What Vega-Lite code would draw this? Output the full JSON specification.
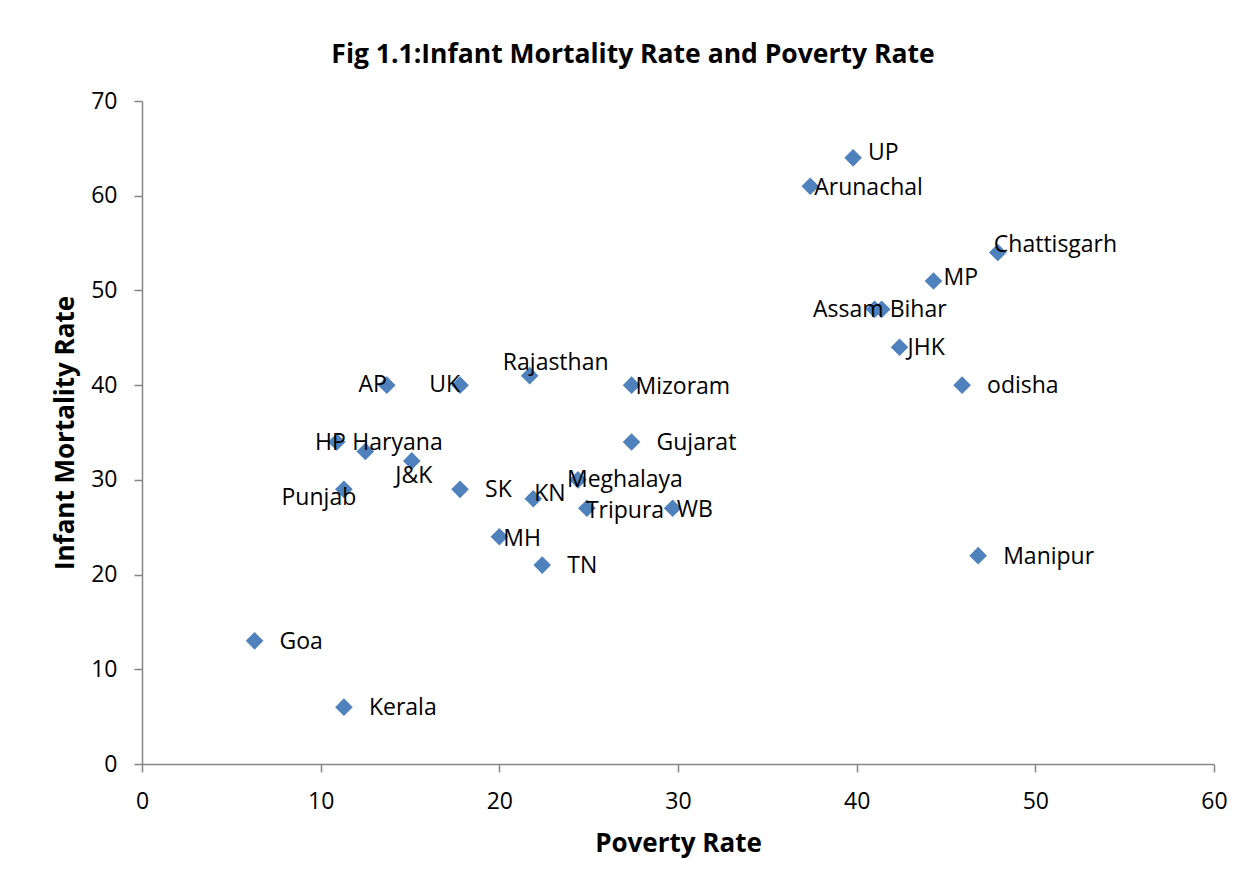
{
  "$schema": "https://vega.github.io/schema/vega-lite/v6.json",
  "width": 1072,
  "height": 663,
  "autosize": {"type": "none"},
  "padding": {"left": 142, "top": 101, "right": 40, "bottom": 124},
  "background": "white",
  "config": {"view": {"stroke": null}, "font": "Open Sans"},
  "title": {
    "text": "Fig 1.1:Infant Mortality Rate and Poverty Rate",
    "font": "Open Sans", "fontSize": 26.5, "fontWeight": "bold", "color": "#000000",
    "anchor": "middle", "frame": "group", "dx": -45, "dy": 36, "baseline": "alphabetic", "offset": 37
  },
  "data": {
    "values": [
      {"state": "UP", "poverty": 39.8, "imr": 64},
      {"state": "Arunachal", "poverty": 37.4, "imr": 61},
      {"state": "Chattisgarh", "poverty": 47.9, "imr": 54},
      {"state": "MP", "poverty": 44.3, "imr": 51},
      {"state": "Assam", "poverty": 41.0, "imr": 48},
      {"state": "Bihar", "poverty": 41.4, "imr": 48},
      {"state": "JHK", "poverty": 42.4, "imr": 44},
      {"state": "odisha", "poverty": 45.9, "imr": 40},
      {"state": "Manipur", "poverty": 46.8, "imr": 22},
      {"state": "Mizoram", "poverty": 27.4, "imr": 40},
      {"state": "Gujarat", "poverty": 27.4, "imr": 34},
      {"state": "Rajasthan", "poverty": 21.7, "imr": 41},
      {"state": "UK", "poverty": 17.8, "imr": 40},
      {"state": "AP", "poverty": 13.7, "imr": 40},
      {"state": "HP", "poverty": 10.9, "imr": 34},
      {"state": "Haryana", "poverty": 12.5, "imr": 33},
      {"state": "J&K", "poverty": 15.1, "imr": 32},
      {"state": "Punjab", "poverty": 11.3, "imr": 29},
      {"state": "SK", "poverty": 17.8, "imr": 29},
      {"state": "KN", "poverty": 21.9, "imr": 28},
      {"state": "Meghalaya", "poverty": 24.4, "imr": 30},
      {"state": "Tripura", "poverty": 24.9, "imr": 27},
      {"state": "WB", "poverty": 29.7, "imr": 27},
      {"state": "MH", "poverty": 20.0, "imr": 24},
      {"state": "TN", "poverty": 22.4, "imr": 21},
      {"state": "Goa", "poverty": 6.3, "imr": 13},
      {"state": "Kerala", "poverty": 11.3, "imr": 6}
    ]
  },
  "encoding": {
    "x": {
      "field": "poverty", "type": "quantitative",
      "scale": {"domain": [0, 60], "nice": false, "zero": true},
      "axis": {
        "title": "Poverty Rate", "values": [0, 10, 20, 30, 40, 50, 60], "labelFlush": false,
        "grid": false, "domainColor": "#868686", "tickColor": "#868686", "domainWidth": 1.5, "tickWidth": 1.5,
        "tickSize": 8, "labelFont": "Open Sans", "labelFontSize": 23, "labelColor": "#000000", "labelPadding": 18,
        "titleFont": "Open Sans", "titleFontSize": 26, "titleFontWeight": "bold", "titleColor": "#000000", "titlePadding": 17
      }
    },
    "y": {
      "field": "imr", "type": "quantitative",
      "scale": {"domain": [0, 70], "nice": false},
      "axis": {
        "title": "Infant Mortality Rate", "values": [0, 10, 20, 30, 40, 50, 60, 70],
        "grid": false, "domainColor": "#868686", "tickColor": "#868686", "domainWidth": 1.5, "tickWidth": 1.5,
        "tickSize": 8, "labelFont": "Open Sans", "labelFontSize": 23, "labelColor": "#000000", "labelPadding": 17,
        "titleFont": "Open Sans", "titleFontSize": 26, "titleFontWeight": "bold", "titleColor": "#000000", "titlePadding": 12
      }
    }
  },
  "layer": [
    {"mark": {"type": "point", "shape": "diamond", "filled": true, "size": 310, "color": "#4F81BD", "opacity": 1}},
    {
      "transform": [{"filter": {"field": "state", "oneOf": ["odisha", "Manipur", "Gujarat", "SK", "TN", "Goa", "Kerala"]}}],
      "mark": {"type": "text", "align": "left", "baseline": "middle", "dx": 25, "dy": 1, "fontSize": 23, "font": "Open Sans", "color": "#000000"},
      "encoding": {"text": {"field": "state"}}
    },
    {
      "transform": [{"filter": {"field": "state", "oneOf": ["UP"]}}],
      "mark": {"type": "text", "align": "left", "baseline": "middle", "dx": 15, "dy": -5, "fontSize": 23, "font": "Open Sans", "color": "#000000"},
      "encoding": {"text": {"field": "state"}}
    },
    {
      "transform": [{"filter": {"field": "state", "oneOf": ["Bihar", "JHK"]}}],
      "mark": {"type": "text", "align": "left", "baseline": "middle", "dx": 8, "dy": 1, "fontSize": 23, "font": "Open Sans", "color": "#000000"},
      "encoding": {"text": {"field": "state"}}
    },
    {
      "transform": [{"filter": {"field": "state", "oneOf": ["MP"]}}],
      "mark": {"type": "text", "align": "left", "baseline": "middle", "dx": 10, "dy": -3, "fontSize": 23, "font": "Open Sans", "color": "#000000"},
      "encoding": {"text": {"field": "state"}}
    },
    {
      "transform": [{"filter": {"field": "state", "oneOf": ["Arunachal", "Mizoram", "MH", "WB"]}}],
      "mark": {"type": "text", "align": "left", "baseline": "middle", "dx": 4, "dy": 2, "fontSize": 23, "font": "Open Sans", "color": "#000000"},
      "encoding": {"text": {"field": "state"}}
    },
    {
      "transform": [{"filter": {"field": "state", "oneOf": ["Tripura"]}}],
      "mark": {"type": "text", "align": "left", "baseline": "middle", "dx": -1, "dy": 3, "fontSize": 23, "font": "Open Sans", "color": "#000000"},
      "encoding": {"text": {"field": "state"}}
    },
    {
      "transform": [{"filter": {"field": "state", "oneOf": ["KN"]}}],
      "mark": {"type": "text", "align": "left", "baseline": "middle", "dx": 1, "dy": -5, "fontSize": 23, "font": "Open Sans", "color": "#000000"},
      "encoding": {"text": {"field": "state"}}
    },
    {
      "transform": [{"filter": {"field": "state", "oneOf": ["Chattisgarh"]}}],
      "mark": {"type": "text", "align": "left", "baseline": "middle", "dx": -4, "dy": -8, "fontSize": 23, "font": "Open Sans", "color": "#000000"},
      "encoding": {"text": {"field": "state"}}
    },
    {
      "transform": [{"filter": {"field": "state", "oneOf": ["Meghalaya"]}}],
      "mark": {"type": "text", "align": "left", "baseline": "middle", "dx": -11, "dy": 0, "fontSize": 23, "font": "Open Sans", "color": "#000000"},
      "encoding": {"text": {"field": "state"}}
    },
    {
      "transform": [{"filter": {"field": "state", "oneOf": ["Haryana"]}}],
      "mark": {"type": "text", "align": "left", "baseline": "middle", "dx": -13, "dy": -8, "fontSize": 23, "font": "Open Sans", "color": "#000000"},
      "encoding": {"text": {"field": "state"}}
    },
    {
      "transform": [{"filter": {"field": "state", "oneOf": ["Rajasthan"]}}],
      "mark": {"type": "text", "align": "center", "baseline": "middle", "dx": 26, "dy": -13, "fontSize": 23, "font": "Open Sans", "color": "#000000"},
      "encoding": {"text": {"field": "state"}}
    },
    {
      "transform": [{"filter": {"field": "state", "oneOf": ["J&K"]}}],
      "mark": {"type": "text", "align": "center", "baseline": "middle", "dx": 2, "dy": 15, "fontSize": 23, "font": "Open Sans", "color": "#000000"},
      "encoding": {"text": {"field": "state"}}
    },
    {
      "transform": [{"filter": {"field": "state", "oneOf": ["Punjab"]}}],
      "mark": {"type": "text", "align": "center", "baseline": "middle", "dx": -25, "dy": 9, "fontSize": 23, "font": "Open Sans", "color": "#000000"},
      "encoding": {"text": {"field": "state"}}
    },
    {
      "transform": [{"filter": {"field": "state", "oneOf": ["AP", "UK"]}}],
      "mark": {"type": "text", "align": "right", "baseline": "middle", "dx": 0, "dy": 0, "fontSize": 23, "font": "Open Sans", "color": "#000000"},
      "encoding": {"text": {"field": "state"}}
    },
    {
      "transform": [{"filter": {"field": "state", "oneOf": ["HP", "Assam"]}}],
      "mark": {"type": "text", "align": "right", "baseline": "middle", "dx": 9, "dy": 1, "fontSize": 23, "font": "Open Sans", "color": "#000000"},
      "encoding": {"text": {"field": "state"}}
    }
  ]
}
